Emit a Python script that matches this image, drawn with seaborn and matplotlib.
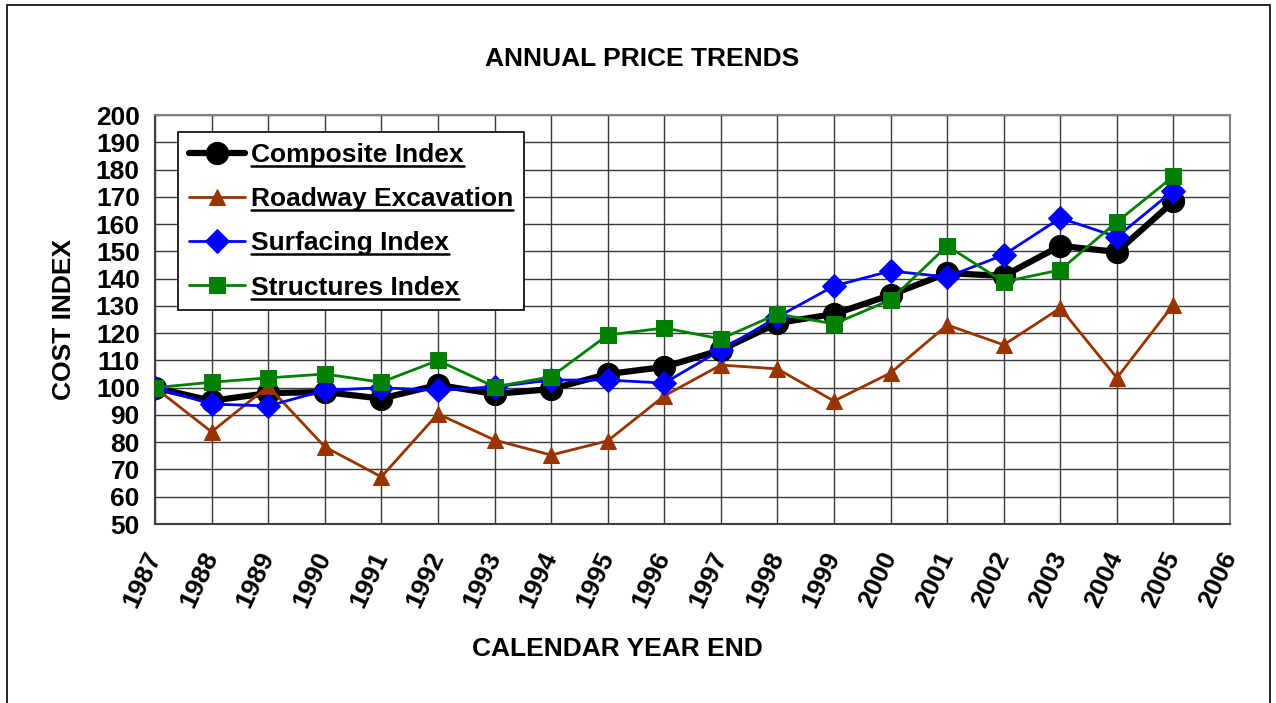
import numpy as np
import pandas as pd
import matplotlib
matplotlib.use("Agg")
import matplotlib.pyplot as plt
import seaborn as sns
from matplotlib.lines import Line2D
from matplotlib.patches import Rectangle

# ──────────────────────────────────────────────
# Data
# ──────────────────────────────────────────────
years = list(range(1987, 2006))
composite = [100, 95.2, 98, 98.4, 96, 101, 97.7, 99.5, 105, 107.6,
             113.8, 123.7, 127, 134, 142, 141, 152, 149.8, 168.3]
roadway = [100, 83.8, 100.5, 78.3, 67.3, 90.4, 80.8, 75.3, 80.5, 97,
           108.3, 106.9, 95.1, 105.4, 123, 115.7, 129.2, 103.6, 130.5]
surfacing = [100, 94, 93.3, 99, 100, 99, 100.3, 102.8, 102.8, 101.7,
             113.8, 125.9, 137.3, 142.8, 140.6, 148.7, 162.2, 155.3, 172.3]
structures = [100, 102, 103.6, 105, 102, 110, 100.3, 104, 119.3, 121.9,
              117.9, 127, 123.4, 132.2, 152, 138.8, 143.2, 160.8, 177.5]

series_names = ["Composite Index", "Roadway Excavation", "Surfacing Index", "Structures Index"]
xtick_years = list(range(1987, 2007))
yticks = list(range(50, 201, 10))

df = pd.DataFrame({
    "year": years * 4,
    "value": composite + roadway + surfacing + structures,
    "series": sum([[n] * len(years) for n in series_names], []),
})

styles = {
    "Composite Index": dict(color="black", lw=4.5, marker="o", ms=16),
    "Roadway Excavation": dict(color="#993300", lw=2, marker="^", ms=12),
    "Surfacing Index": dict(color="#0000FF", lw=2, marker="D", ms=12),
    "Structures Index": dict(color="#008000", lw=2, marker="s", ms=11),
}

# ──────────────────────────────────────────────
# Plot
# ──────────────────────────────────────────────
sns.set_style("white")
plt.rcParams["font.family"] = ["Liberation Sans", "DejaVu Sans"]
plt.rcParams["font.weight"] = "bold"
plt.rcParams["text.color"] = "black"
plt.rcParams["axes.labelcolor"] = "black"
plt.rcParams["xtick.color"] = "black"
plt.rcParams["ytick.color"] = "black"

FS = 19

fig = plt.figure(figsize=(12.76, 7.03), dpi=100)
ax = fig.add_axes([0.1215, 0.2546, 0.964 - 0.1215, 0.8364 - 0.2546])

for name in series_names:
    st = styles[name]
    sub = df[df["series"] == name]
    sns.lineplot(data=sub, x="year", y="value", ax=ax, color=st["color"],
                 linewidth=st["lw"], marker=st["marker"], markersize=st["ms"],
                 markeredgecolor=st["color"], label=name, zorder=3)

ax.set_xlim(1987, 2006)
ax.set_ylim(50, 200)
ax.set_xticks(xtick_years)
ax.set_yticks(yticks)
ax.set_xticklabels([str(y) for y in xtick_years], rotation=65, ha="right",
                   va="center", rotation_mode="anchor", fontsize=FS, fontweight="bold")
ax.set_yticklabels([str(v) for v in yticks], fontsize=FS, fontweight="bold")
ax.tick_params(axis="both", direction="out", length=7, width=1, color="#404040")
ax.tick_params(axis="x", pad=14)
ax.tick_params(axis="y", pad=4)
ax.grid(True, color="#3a3a3a", linewidth=1)
for sp in ax.spines.values():
    sp.set_color("#808080")
    sp.set_linewidth(1.5)
ax.spines["left"].set_color("#404040")
ax.spines["bottom"].set_color("#404040")

ax.set_xlabel("CALENDAR YEAR END", fontsize=FS, fontweight="bold")
ax.xaxis.set_label_coords((617 - 155) / 1075, -0.277)
ax.set_ylabel("COST INDEX", fontsize=FS, fontweight="bold", labelpad=14)
fig.text(0.503, 0.916, "ANNUAL PRICE TRENDS", ha="center", va="center",
         fontsize=FS, fontweight="bold")

leg = ax.legend(loc="upper left", bbox_to_anchor=(0.0214, 0.958), frameon=True,
                fancybox=False, edgecolor="black", framealpha=1,
                prop={"size": FS, "weight": "bold"}, handlelength=2.15,
                handletextpad=0.22, labelspacing=0.77, borderpad=0.4,
                borderaxespad=0)
leg.get_frame().set_linewidth(1.2)
leg.set_zorder(5)

# underline legend labels
fig.canvas.draw()
renderer = fig.canvas.get_renderer()
inv = fig.transFigure.inverted()
for t in leg.get_texts():
    bb = t.get_window_extent(renderer)
    (x0, y0), (x1, _) = inv.transform([(bb.x0, bb.y0 + 1), (bb.x1, bb.y0 + 1)])
    fig.add_artist(Line2D([x0, x1], [y0, y0], color="black", lw=1.8, zorder=6))

# outer chart frame
fig.add_artist(Rectangle((7 / 1276, -0.05), (1270 - 7) / 1276, 1.05 - 5 / 703,
                         transform=fig.transFigure, fill=False,
                         edgecolor="black", lw=1.2))

fig.savefig("out.png", dpi=100)
